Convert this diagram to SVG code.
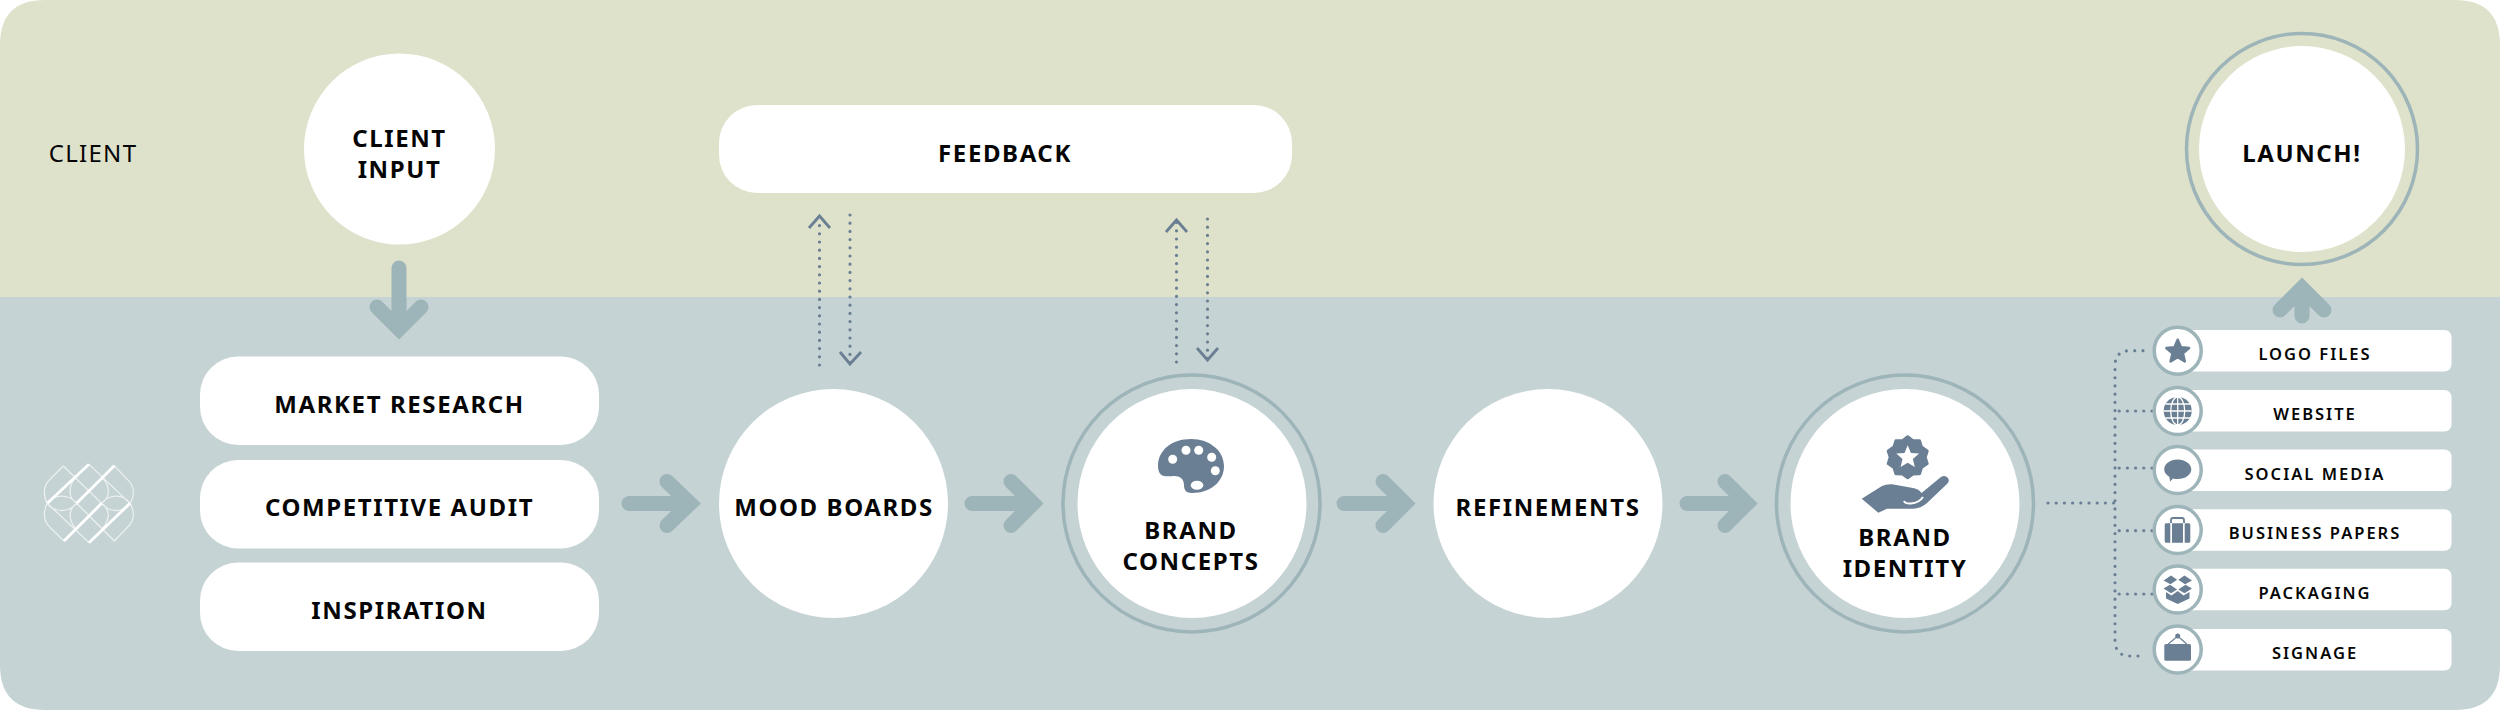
<svg xmlns="http://www.w3.org/2000/svg" width="2500" height="710" viewBox="0 0 2500 710">
<style>
text{font-family:"Noto Sans","Open Sans","Liberation Sans",sans-serif;text-anchor:middle;fill:#050505}
.b{font-size:24px;font-weight:700;letter-spacing:1.6px}
.s{font-size:16.5px;font-weight:600;letter-spacing:2px}
.w{fill:#fff}
.ring{fill:none;stroke:#9db4b9;stroke-width:3.5}
.sr{fill:#fff;stroke:#9db4b9;stroke-width:3.5}
.ic{fill:#6a7f93}
.arrow{fill:none;stroke:#9db4b9;stroke-width:15;stroke-linecap:round;stroke-linejoin:miter}
.dot{fill:none;stroke:#6a7f93;stroke-width:3.2;stroke-linecap:round;stroke-dasharray:0 8.200}
.chev{fill:none;stroke:#6a7f93;stroke-width:2.800}
.lg{fill:none;stroke:#fff;stroke-width:3.500;opacity:.7}
.lt{fill:none;stroke:#fff;stroke-width:8.500}
</style>
<g id="bands">
<path d="M0 297V45Q0 0 45 0H2455Q2500 0 2500 45V297Z" fill="#dfe2ca"/>
<path d="M0 297H2500V665Q2500 710 2455 710H45Q0 710 0 665Z" fill="#c6d3d4"/>
</g>
<text x="93" y="162" style="font-size:24px;letter-spacing:1.300px">CLIENT</text>
<g id="logo" transform="translate(20 440) scale(.3333)">
<path class="lg" d="M130 78L90 118Q73 135 73 155Q73 175 82 190Q73 205 73 225Q73 245 90 262L132 303M283 77L322 118Q340 135 340 155Q340 175 330 190Q340 205 340 225Q340 245 322 262L283 303M130 78L245 190M207 73L330 190M82 190L207 308M170 190L283 303M168 113Q150 130 150 155Q150 175 170 190Q150 205 150 225Q150 245 168 268M245 113Q265 130 265 155Q265 175 245 190Q265 205 265 225Q265 245 245 268M82 190Q95 170 125 168Q155 170 170 190Q155 210 125 212Q95 210 82 190M245 190Q260 170 288 168Q318 170 330 190Q318 210 288 212Q260 210 245 190"/>
<path class="lt" d="M82 190L207 73M170 190L283 77M245 190L132 303M330 190L207 308"/>
</g>
<g id="connectors">
<path class="arrow" d="M399 268V326M377 307L399 329L421 307"/>
<path class="arrow" d="M629 503.500H690M667 481.500L690 503.500L667 525.500"/>
<path class="arrow" d="M972 503.500H1033M1011 481.500L1033 503.500L1011 525.500"/>
<path class="arrow" d="M1344 503.500H1405M1383 481.500L1405 503.500L1383 525.500"/>
<path class="arrow" d="M1687 503.500H1747M1725 481.500L1747 503.500L1725 525.500"/>
<path class="arrow" d="M2302 316V288M2280 310L2302 288L2324 310"/>
<path class="dot" d="M819.500 365V218"/><path class="chev" d="M809 228L819.500 216L830 228"/>
<path class="dot" d="M850 215V364"/><path class="chev" d="M840 352L850 364L861 352"/>
<path class="dot" d="M1176.500 362V222"/><path class="chev" d="M1166 232L1176.500 220L1187 232"/>
<path class="dot" d="M1207.500 219V360"/><path class="chev" d="M1197 348L1207.500 360L1218 348"/>
<path class="dot" d="M2048 503H2115"/>
<path class="dot" d="M2143 350.700H2130Q2115 350.700 2115 366V640Q2115 656 2130 656H2142"/>
<path class="dot" d="M2152 411H2115M2152 468H2115M2152 530.700H2115M2152 594H2115"/>
</g>
<g id="client-input"><circle class="w" cx="399.500" cy="149" r="95.500"/><text class="b" x="399.500" y="146.500">CLIENT</text><text class="b" x="399.500" y="177.500">INPUT</text></g>
<g id="feedback"><rect class="w" x="719" y="105" width="573" height="88" rx="38"/><text class="b" x="1005" y="161.500">FEEDBACK</text></g>
<g id="launch"><circle class="ring" cx="2302" cy="149" r="115.500"/><circle class="w" cx="2302" cy="149" r="103"/><text class="b" x="2302" y="161.500">LAUNCH!</text></g>
<g id="market-research"><rect class="w" x="200" y="356.500" width="399" height="88.500" rx="38"/><text class="b" x="399.500" y="413">MARKET RESEARCH</text></g>
<g id="competitive-audit"><rect class="w" x="200" y="460" width="399" height="88.500" rx="38"/><text class="b" x="399.500" y="516">COMPETITIVE AUDIT</text></g>
<g id="inspiration"><rect class="w" x="200" y="562.500" width="399" height="88.500" rx="38"/><text class="b" x="399.500" y="618.500">INSPIRATION</text></g>
<g id="mood-boards"><circle class="w" cx="833.500" cy="503.500" r="114.500"/><text class="b" x="834" y="515.500">MOOD BOARDS</text></g>
<g id="brand-concepts"><circle class="ring" cx="1191.500" cy="503.500" r="128.500"/><circle class="w" cx="1192" cy="503.500" r="114.500"/>
<path class="ic" d="M1158 466C1158 450 1172 439 1191 439C1210 439 1224 451 1224 466C1224 482 1210 493 1192 493C1186 493 1184 490 1184 485C1184 479 1180 476 1174 476C1168 476 1158 479 1158 466Z"/>
<g class="w"><circle cx="1172.700" cy="459.300" r="4.500"/><circle cx="1186" cy="450.300" r="4.500"/><circle cx="1198.700" cy="450.300" r="4.500"/><circle cx="1211.700" cy="457.300" r="4.500"/><circle cx="1215.300" cy="470.700" r="4.500"/><ellipse cx="1197" cy="485.300" rx="6.300" ry="4.500"/></g>
<text class="b" x="1191" y="538.500">BRAND</text><text class="b" x="1191" y="569.500">CONCEPTS</text></g>
<g id="refinements"><circle class="w" cx="1548" cy="503.500" r="114.500"/><text class="b" x="1548" y="515.500">REFINEMENTS</text></g>
<g id="brand-identity"><circle class="ring" cx="1905" cy="503.500" r="128.500"/><circle class="w" cx="1905" cy="503.500" r="114.500"/>
<g transform="translate(1907.700 457.300)"><polygon class="ic" stroke="#6a7f93" stroke-width="3" stroke-linejoin="round" points="0,-20.500 5.100,-16.700 11.800,-16.500 13.800,-10.200 19.500,-6.300 17.500,0 19.500,6.300 13.800,10.200 11.800,16.500 5.100,16.700 0,20.500 -5.100,16.700 -11.800,16.500 -13.800,10.200 -19.500,6.300 -17.500,0 -19.500,-6.300 -13.800,-10.200 -11.800,-16.500 -5.100,-16.700"/><polygon class="w" points="0,-12 3.200,-4.400 11.400,-3.700 5.200,1.700 7.100,9.700 0,5.500 -7.100,9.700 -5.200,1.700 -11.400,-3.700 -3.200,-4.400"/></g>
<path class="ic" d="M1861.700 498.700L1882 486Q1886 484 1892 484.300L1913 488Q1919 489 1921.500 493L1941 477Q1945 474.500 1948 478Q1950 481 1947 484L1927 503Q1921 508.700 1913 508.700L1887 508.700L1878.300 512.700Z"/>
<path d="M1904 501Q1905 503.800 1911 503.500Q1919 503 1923 497" fill="none" stroke="#fff" stroke-width="2"/>
<text class="b" x="1905" y="546">BRAND</text><text class="b" x="1905" y="577">IDENTITY</text></g>
<g id="logo-files"><rect class="w" x="2180" y="330" width="271.500" height="41.500" rx="7"/><circle class="sr" cx="2177.700" cy="350.700" r="23.500"/><polygon class="ic" stroke="#6a7f93" stroke-width="2.500" stroke-linejoin="round" points="2177.700,339.700 2180.900,347.300 2189.100,348 2182.900,353.400 2184.800,361.400 2177.700,357.200 2170.600,361.400 2172.500,353.400 2166.300,348 2174.500,347.300"/><text class="s" x="2315" y="360">LOGO FILES</text></g>
<g id="website"><rect class="w" x="2180" y="390" width="271.500" height="41.500" rx="7"/><circle class="sr" cx="2177.700" cy="411" r="23.500"/><circle class="ic" cx="2177.700" cy="411" r="14"/><g fill="none" stroke="#fff" stroke-width="1.300"><ellipse cx="2177.700" cy="411" rx="7" ry="14"/><path d="M2177.700 397V425M2163.700 411H2191.700M2165.500 404H2190M2165.500 418H2190"/></g><text class="s" x="2315" y="420">WEBSITE</text></g>
<g id="social-media"><rect class="w" x="2180" y="449.500" width="271.500" height="41.500" rx="7"/><circle class="sr" cx="2177.700" cy="470" r="23.500"/><path class="ic" d="M2177.700 459.500C2185 459.500 2191.300 464 2191.300 469.300C2191.300 475 2185 479 2177.700 479C2176 479 2174.500 478.900 2173 478.500L2170 481.500L2169.500 477C2166 475 2164.200 472.500 2164.200 469.300C2164.200 464 2170 459.500 2177.700 459.500Z"/><text class="s" x="2315" y="480">SOCIAL MEDIA</text></g>
<g id="business-papers"><rect class="w" x="2180" y="509.300" width="271.500" height="41.500" rx="7"/><circle class="sr" cx="2177.700" cy="530" r="23.500"/><path class="ic" d="M2166 523.300H2170.300V542.700H2166Q2164.700 542.700 2164.700 541V525Q2164.700 523.300 2166 523.300ZM2172 523.300H2183V542.700H2172ZM2184.700 523.300H2189Q2190.300 523.300 2190.300 525V541Q2190.300 542.700 2189 542.700H2184.700Z"/><path d="M2171 523V520Q2171 518 2173 518H2182Q2184 518 2184 520V523" fill="none" stroke="#6a7f93" stroke-width="1.800"/><text class="s" x="2315" y="539">BUSINESS PAPERS</text></g>
<g id="packaging"><rect class="w" x="2180" y="568.700" width="271.500" height="41.500" rx="7"/><circle class="sr" cx="2177.700" cy="589.500" r="23.500"/><path class="ic" d="M2163.500 580.500L2171 575.500L2177.100 579.700L2170.500 584.300ZM2192 580.500L2184.500 575.500L2178.300 579.700L2185 584.300ZM2163.500 588.500L2170 584.800L2177.100 589.400L2171 593.300ZM2192 588.500L2185.500 584.800L2178.300 589.400L2184.500 593.300ZM2166 592L2171.500 595.500L2177.700 591L2183.500 595.500L2189.500 592V598.500L2177.700 604L2166 598.500Z"/><text class="s" x="2315" y="599.300">PACKAGING</text></g>
<g id="signage"><rect class="w" x="2180" y="629" width="271.500" height="41.500" rx="7"/><circle class="sr" cx="2177.700" cy="649.500" r="23.500"/><rect class="ic" x="2164.300" y="644" width="26.700" height="16.700" rx="1.500"/><circle class="ic" cx="2177.700" cy="636" r="2.500"/><path d="M2168.300 644L2177.700 636L2186.700 644" fill="none" stroke="#6a7f93" stroke-width="1.200"/><text class="s" x="2315" y="659.300">SIGNAGE</text></g>
</svg>
